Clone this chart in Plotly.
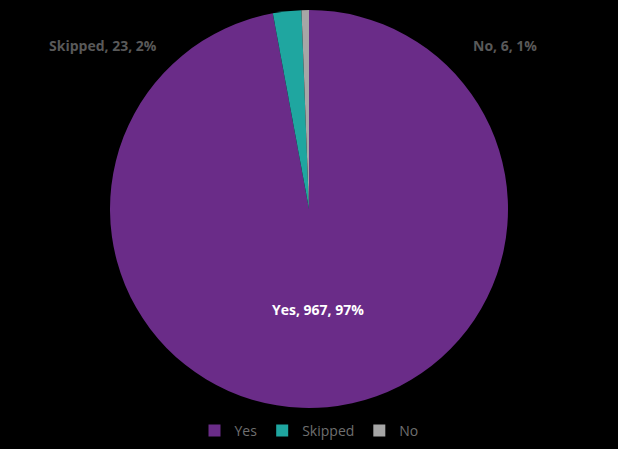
import plotly.graph_objects as go

labels = ["Yes", "Skipped", "No"]
values = [967, 23, 6]
percents = ["97%", "2%", "1%"]
colors = ["#6A2C88", "#1FA6A0", "#A6A6A6"]

W, H = 618, 449

fig = go.Figure(go.Pie(
    labels=labels, values=values, sort=False, direction="clockwise", rotation=0,
    marker=dict(colors=colors, line=dict(width=0)),
    textinfo="none", hoverinfo="label+value+percent",
    domain=dict(x=[110 / W, 508 / W], y=[(H - 408) / H, (H - 10) / H]),
))

def ann(i, x, y, color):
    fig.add_annotation(x=x / W, y=1 - y / H, xref="paper", yref="paper",
                       xanchor="center", yanchor="middle",
                       text=f"<b>{labels[i]}, {values[i]}, {percents[i]}</b>",
                       showarrow=False, font=dict(family="Open Sans", size=14, color=color))

ann(0, 318, 309, "#FFFFFF")
ann(1, 103, 45, "#595959")
ann(2, 505, 45, "#595959")

fig.update_layout(
    width=W, height=H, margin=dict(l=0, r=0, t=0, b=0, pad=0),
    autosize=False,
    paper_bgcolor="#000000", plot_bgcolor="#000000",
    showlegend=True,
    legend=dict(orientation="h", x=0.5, xanchor="center", y=1 - 431 / H, yanchor="middle",
                font=dict(family="Open Sans", size=14, color="#6F6F6F"),
                itemwidth=30, traceorder="normal"),
)

fig.write_html("out.html", config={"displayModeBar": False},
               post_script="document.body.style.margin='0';document.body.style.background='#000';")
